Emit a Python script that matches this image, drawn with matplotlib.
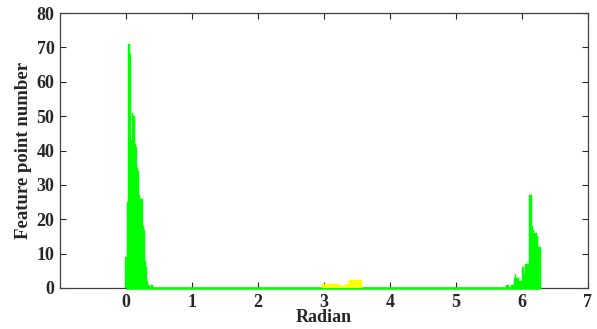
import numpy as np
import matplotlib
matplotlib.use("Agg")
import matplotlib.pyplot as plt

# ---- data (histogram of angles, 1-degree bins, bin centre = index in degrees) ----
n_bins = 361
left_start = 0
left_counts = [9, 25, 71, 71, 68, 43, 51, 50, 42, 41, 35, 34, 27, 26, 26,
               18, 17, 8, 6, 2, 1, 0, 1, 1]
right_start = 330
right_counts = [1, 1, 1, 0, 0, 1, 1, 3, 4, 3, 3, 3, 2, 2, 6, 6, 4, 7, 7, 7,
                27, 27, 27, 18, 17, 16, 16, 15, 12, 12, 12]
yellow_start = 171
yellow_counts = [1.3] * 15 + [0.7] * 5 + [1.3] * 3 + [2.2] * 11

x_ticks = [0, 1, 2, 3, 4, 5, 6, 7]
y_ticks = [0, 10, 20, 30, 40, 50, 60, 70, 80]

bin_w = np.pi / 180
centers = np.arange(n_bins) * bin_w
green = np.zeros(n_bins)
green[left_start:left_start + len(left_counts)] = left_counts
green[right_start:right_start + len(right_counts)] = right_counts
yel_idx = np.arange(yellow_start, yellow_start + len(yellow_counts))

plt.rcParams['font.family'] = ['Liberation Serif', 'DejaVu Serif']
plt.rcParams['font.weight'] = 'bold'

fig = plt.figure(figsize=(5.97, 3.29), dpi=100)
ax = fig.add_axes([60 / 597, 1 - 288 / 329, 528 / 597, 275 / 329])

ax.bar(centers, green, width=bin_w, color='#00ff00', edgecolor='#00ff00',
       linewidth=0.3, zorder=2)
ax.hlines(0, 0, centers[-1], colors='#00ff00', linewidth=1.8, zorder=3,
          clip_on=False)
ax.bar(yel_idx * bin_w, yellow_counts, width=bin_w, color='#ffff00',
       edgecolor='#ffff00', linewidth=0.3, zorder=4)

ax.set_xlim(-1, 7)
ax.set_ylim(0, 80)
ax.set_xticks(x_ticks)
ax.set_yticks(y_ticks)
ax.tick_params(direction='in', length=4, width=0.8, top=True, right=True,
               labelsize=13, colors='#262626', pad=4)
for s in ax.spines.values():
    s.set_color('#404040')
    s.set_linewidth(0.9)
for lab in ax.get_xticklabels() + ax.get_yticklabels():
    lab.set_fontweight('bold')

ax.set_xlabel('Radian', fontsize=13, fontweight='bold', color='#262626',
              labelpad=-1)
ax.set_ylabel('Feature point number', fontsize=13.5, fontweight='bold',
              color='#262626', labelpad=3)

fig.savefig('out.png', dpi=100)
